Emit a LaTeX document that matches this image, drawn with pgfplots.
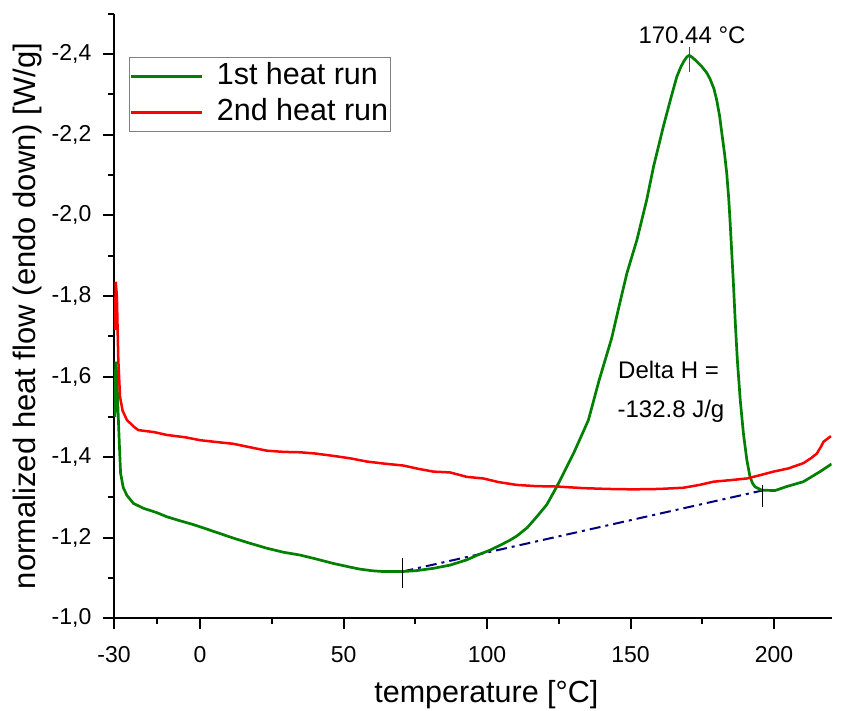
\documentclass[border=0pt]{standalone}
\usepackage{fontspec}
\setmainfont{Liberation Sans}
\usepackage{pgfplots}
\pgfplotsset{compat=1.18}
\definecolor{cgreen}{RGB}{0,128,0}
\definecolor{cred}{RGB}{255,0,0}
\definecolor{cnavy}{RGB}{0,0,128}
\begin{document}
\begin{tikzpicture}
\useasboundingbox (-114pt,-91.7pt) rectangle (736pt,618.3pt);
\begin{axis}[
 at={(0,0)}, anchor=south west,
 scale only axis, width=717.5pt, height=604.5pt,
 xmin=-30, xmax=220, ymin=-2.5, ymax=-1.0, y dir=reverse,
 axis x line*=bottom, axis y line*=left,
 axis line style={line width=2.3pt, black},
 tick align=outside,
 major tick length=10.5pt, minor tick length=5.5pt,
 tick style={line width=2pt, black},
 xtick={-30,0,50,100,150,200},
 xticklabels={-30,0,50,100,150,200},
 minor xtick={-15,25,75,125,175},
 ytick={-2.4,-2.2,-2.0,-1.8,-1.6,-1.4,-1.2,-1.0},
 yticklabels={{-2,4},{-2,2},{-2,0},{-1,8},{-1,6},{-1,4},{-1,2},{-1,0}},
 minor ytick={-2.5,-2.3,-2.1,-1.9,-1.7,-1.5,-1.3,-1.1},
 tick label style={font=\fontsize{23}{27}\selectfont},
 xticklabel style={inner sep=0pt, anchor=north, yshift=-17pt},
 yticklabel style={inner sep=0pt, anchor=east, xshift=-12pt},
 every axis x label/.style={at={(axis description cs:0.519,0)}, anchor=base, yshift=-84pt, font=\fontsize{30.5}{36}\selectfont},
 every axis y label/.style={at={(axis description cs:-0.12,0.5)}, rotate=90, anchor=center, font=\fontsize{31}{36}\selectfont},
 xlabel={temperature [°C]},
 ylabel={normalized heat flow (endo down) [W/g]},
 legend style={at={(axis description cs:0.0209,0.9285)}, anchor=north west,
   draw=gray, line width=1pt, font=\fontsize{30.5}{36}\selectfont,
   inner xsep=0pt, inner ysep=1pt, row sep=0pt,
   nodes={inner xsep=2pt, inner ysep=4pt, text height=22pt, text depth=6pt},
   cells={anchor=west}},
 legend image code/.code={\draw[#1] (0pt,0pt) -- (71pt,0pt); \path[draw=none] (0pt,0pt) -- (84pt,0pt);},
]
\addplot[cnavy, line width=2pt, dash pattern=on 11pt off 5pt on 3pt off 5pt, forget plot] coordinates {(70.5,-1.116) (195.8,-1.317)};
\addplot[cgreen, line width=2.7pt] coordinates {
(-29.7,-1.50) (-29.4,-1.637) (-29.0,-1.60) (-28.6,-1.517) (-28.1,-1.426) (-27.7,-1.36) (-26.8,-1.325) (-25.5,-1.305) (-23.2,-1.285) (-19.7,-1.273) (-15,-1.262) (-11.6,-1.252) (-7,-1.242) (-3,-1.234) (0,-1.227) (5,-1.215) (11.6,-1.199) (17,-1.187) (23.2,-1.174) (29,-1.164) (34.8,-1.157) (40,-1.148) (46.5,-1.136) (52.3,-1.127) (55.7,-1.122) (60,-1.118) (63.9,-1.116) (70.3,-1.116) (75,-1.118) (81.3,-1.124) (87.1,-1.132) (92.9,-1.145) (97,-1.158) (101,-1.169) (105,-1.183) (108,-1.194) (110.3,-1.204) (114,-1.225) (117.3,-1.252) (120.8,-1.282) (124.3,-1.327) (127,-1.365) (130.1,-1.409) (133,-1.455) (135.3,-1.492) (139,-1.59) (143.4,-1.695) (146,-1.775) (148.7,-1.856) (152.2,-1.939) (155.6,-2.038) (158,-2.121) (161.4,-2.220) (164,-2.29) (166.1,-2.344) (167.5,-2.368) (168.6,-2.383) (169.6,-2.393) (170.4,-2.397) (171.5,-2.392) (173,-2.382) (174.8,-2.369) (176.5,-2.354) (177.7,-2.338) (179,-2.315) (180,-2.286) (181,-2.247) (181.8,-2.203) (182.7,-2.155) (183.5,-2.104) (184.2,-2.04) (184.7,-1.980) (185.3,-1.90) (185.9,-1.82) (186.5,-1.73) (187.2,-1.64) (188.2,-1.542) (189.3,-1.459) (190.5,-1.393) (191.6,-1.351) (192.5,-1.335) (193.4,-1.326) (195.7,-1.318) (200.3,-1.317) (204.4,-1.327) (210.2,-1.339) (216,-1.364) (220,-1.383)
};
\addlegendentry{1st heat run}
\addplot[cred, line width=2.5pt] coordinates {
(-29.65,-1.716) (-29.4,-1.835) (-29.0,-1.80) (-28.5,-1.641) (-27.9,-1.55) (-27.0,-1.515) (-25.5,-1.492) (-23,-1.475) (-21.5,-1.467) (-16,-1.462) (-11.6,-1.455) (-5,-1.449) (0,-1.442) (5,-1.438) (11.6,-1.433) (17,-1.425) (23.2,-1.416) (29,-1.413) (34.8,-1.412) (40,-1.409) (46.5,-1.403) (52.3,-1.397) (58.1,-1.389) (64,-1.384) (70.9,-1.379) (76,-1.371) (81.3,-1.364) (87.1,-1.362) (92.9,-1.351) (98.7,-1.347) (104,-1.338) (110.3,-1.331) (117,-1.328) (124.3,-1.327) (133.6,-1.323) (142,-1.321) (151,-1.320) (160,-1.321) (168.4,-1.324) (174,-1.331) (178.9,-1.339) (185,-1.343) (190.5,-1.347) (195,-1.355) (199.8,-1.364) (205,-1.372) (210.2,-1.385) (213,-1.398) (214.9,-1.409) (216.5,-1.428) (217.2,-1.438) (219.8,-1.452)
};
\addlegendentry{2nd heat run}
\addplot[black, line width=0.8pt, forget plot] coordinates {(70.5,-1.149) (70.5,-1.074)};
\addplot[black, line width=0.8pt, forget plot] coordinates {(195.8,-1.331) (195.8,-1.277)};
\addplot[black!70, line width=0.8pt, forget plot] coordinates {(170.44,-2.418) (170.44,-2.356)};
\node[anchor=base, inner sep=0pt, font=\fontsize{24}{28}\selectfont] at (axis cs:171.4,-2.4275) {170.44 °C};
\node[anchor=base west, inner sep=0pt, font=\fontsize{24}{28}\selectfont] at (axis cs:145.6,-1.5955) {Delta H =};
\node[anchor=base west, inner sep=0pt, font=\fontsize{24}{28}\selectfont] at (axis cs:145.4,-1.4988) {-132.8 J/g};
\end{axis}
\end{tikzpicture}
\end{document}
